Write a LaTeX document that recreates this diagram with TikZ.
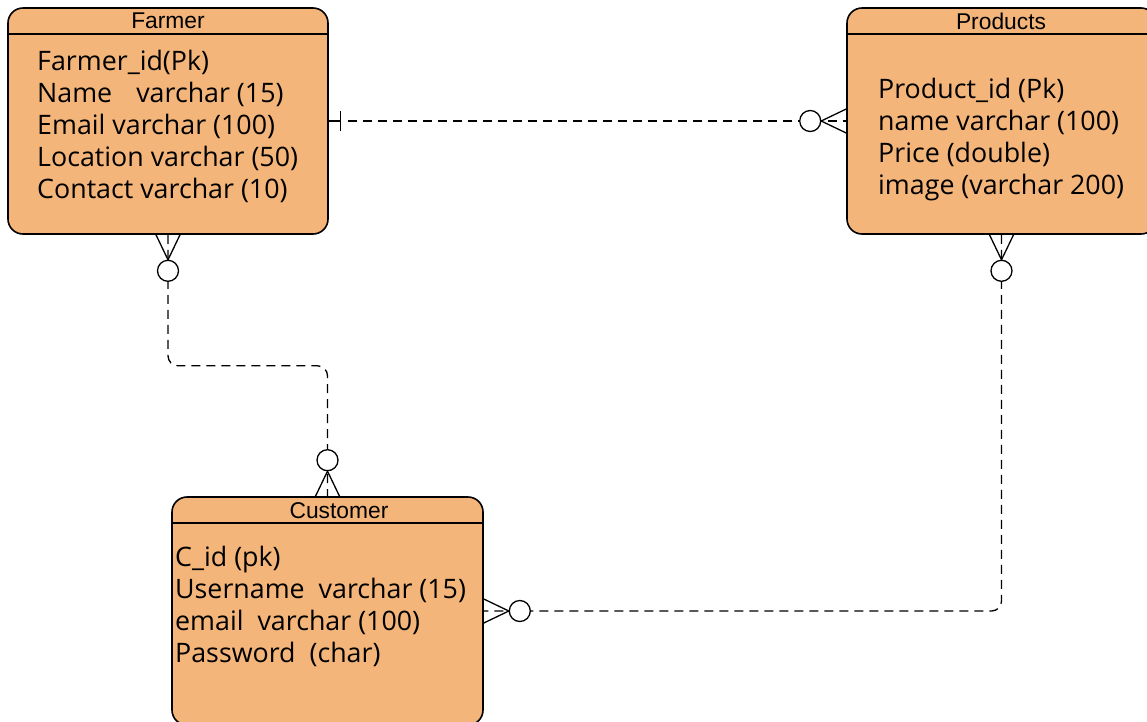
\documentclass[tikz,border=0pt]{standalone}
\usepackage{fontspec}
\setmainfont{Open Sans}
\newfontfamily\titlefont{Liberation Sans}
\usetikzlibrary{calc}
\definecolor{entityfill}{HTML}{F4B57A}

\begin{document}
\begin{tikzpicture}[x=1pt,y=-1pt,
  entity/.style={draw=black, line width=1.6pt, fill=entityfill,
    rounded corners=15pt, inner sep=0pt},
  headrule/.style={line width=1.6pt},
  title/.style={font=\titlefont\fontsize{22.8}{26}\selectfont, inner sep=0pt},
  attrs/.style={anchor=north west, align=left, inner sep=0pt,
    font=\fontsize{26.8}{32}\selectfont},
  erline/.style={line width=1.3pt},
  rel/.style={line width=1.3pt, dash pattern=on 9pt off 6pt},
  ercircle/.style={circle, draw, line width=1.3pt, fill=white,
    minimum size=21pt, inner sep=0pt},
  crowfoot/.pic={\draw[erline] (-12,0) -- (0,25) -- (12,0);}
]
\useasboundingbox (0,0) rectangle (1147,721);

% entities
\node[entity, minimum width=320pt, minimum height=226pt] (farmer) at (168,121) {};
\node[entity, minimum width=309pt, minimum height=226pt] (products) at (1001.5,121) {};
\node[entity, minimum width=311pt, minimum height=228pt] (customer) at (327.5,611) {};

% header rules
\draw[headrule] ($(farmer.north west)+(0,27)$) -- ($(farmer.north east)+(0,27)$);
\draw[headrule] ($(products.north west)+(0,27)$) -- ($(products.north east)+(0,27)$);
\draw[headrule] ($(customer.north west)+(0,27)$) -- ($(customer.north east)+(0,27)$);

% titles
\node[title] (farmertitle) at (168,21) {Farmer};
\node[title] (productstitle) at (1001,21) {Products};
\node[title] (customertitle) at (339,511) {Customer};

% attributes
\node[attrs] (farmerattrs) at (37,50) {Farmer\_id(Pk)\\Name\hspace*{24pt}varchar (15)\\Email varchar (100)\\Location varchar (50)\\Contact varchar (10)};
\node[attrs] (productsattrs) at (878,78) {Product\_id (Pk)\\name varchar (100)\\Price (double)\\image (varchar 200)};
\node[attrs] (customerattrs) at (175,546) {C\_id (pk)\\Username\ \ varchar (15)\\email\ \ varchar (100)\\Password\ \ (char)};

% Farmer -- Products (one to zero-or-many)
\coordinate (fpbar) at ($(farmer.east)+(12,0)$);
\coordinate (fpdash) at ($(fpbar)+(7,0)$);
\draw[erline] (farmer.east) -- (fpbar);
\draw[erline] ($(fpbar)+(0,-10)$) -- ($(fpbar)+(0,10)$);
\draw[rel] (fpdash) -- (products.west);
\pic[rotate=-90] at (products.west) {crowfoot};
\node[ercircle] (fpcircle) at ($(products.west)+(-36,0)$) {};

% Farmer -- Customer (zero-or-many on both ends)
\draw[rel, rounded corners=10pt] (farmer.south) -- ++(0,131) -| (customer.north);
\pic at (farmer.south) {crowfoot};
\pic[rotate=180] at (customer.north) {crowfoot};
\node[ercircle] (fccircleA) at ($(farmer.south)+(0,36)$) {};
\node[ercircle] (fccircleB) at ($(customer.north)+(0,-36)$) {};

% Products -- Customer (zero-or-many on both ends)
\draw[rel, rounded corners=10pt] (products.south) |- (customer.east);
\pic at (products.south) {crowfoot};
\pic[rotate=90] at (customer.east) {crowfoot};
\node[ercircle] (pccircleA) at ($(products.south)+(0,36)$) {};
\node[ercircle] (pccircleB) at ($(customer.east)+(36,0)$) {};
\end{tikzpicture}
\end{document}
